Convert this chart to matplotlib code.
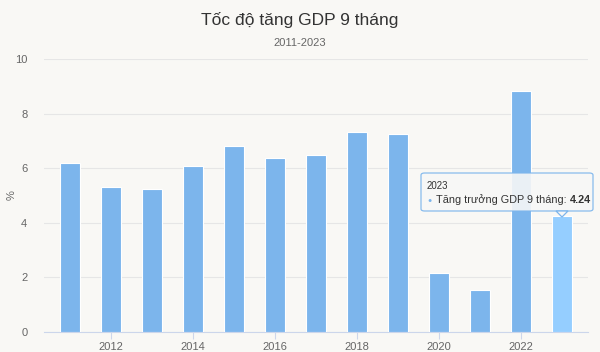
import matplotlib.pyplot as plt
from matplotlib.patches import FancyBboxPatch, Polygon
from matplotlib.text import Annotation

years = [2011, 2012, 2013, 2014, 2015, 2016, 2017, 2018, 2019, 2020, 2021, 2022, 2023]
growth = [6.18, 5.30, 5.23, 6.08, 6.81, 6.37, 6.48, 7.33, 7.25, 2.15, 1.54, 8.83, 4.24]
tick_years = [2012, 2014, 2016, 2018, 2020, 2022]
y_ticks = [0, 2, 4, 6, 8, 10]

plt.rcParams['font.family'] = ['Liberation Sans', 'DejaVu Sans']

bg = '#f9f8f5'
fig = plt.figure(figsize=(6, 3.52), dpi=100, facecolor=bg)
ax = fig.add_axes([44 / 600, 1 - 332 / 352, 544 / 600, 273 / 352], facecolor=bg)

x = list(range(len(years)))
colors = ['#7cb5ec'] * (len(years) - 1) + ['#95ceff']
ax.bar(x, growth, width=0.48, color=colors, edgecolor='white', linewidth=0.8, zorder=3)

ax.set_xlim(-0.63, len(years) - 0.37)
ax.set_ylim(0, 10)
ax.set_yticks(y_ticks)
ax.set_xticks([years.index(y) for y in tick_years])
ax.set_xticklabels([str(y) for y in tick_years])
ax.grid(axis='y', color='#e6e6e6', linewidth=0.8, zorder=0)
for s in ['top', 'right', 'left']:
    ax.spines[s].set_visible(False)
ax.spines['bottom'].set_color('#ccd6eb')
ax.tick_params(axis='y', length=0, labelsize=8, colors='#666666', pad=12)
ax.tick_params(axis='x', length=5, color='#ccd6eb', labelsize=8, labelcolor='#666666', pad=2)

W, H = 600, 352
fig.text(12 / W, 1 - 195 / H, '%', fontsize=8, color='#666666', rotation=90,
         ha='center', va='center')

fig.text(0.5, 1 - 20 / H, 'Tốc độ tăng GDP 9 tháng', ha='center', va='center',
         fontsize=12.5, color='#333333')
fig.text(0.5, 1 - 43 / H, '2011-2023', ha='center', va='center',
         fontsize=8, color='#666666')

# tooltip
box = FancyBboxPatch((421 / W, 1 - 211 / H), 172 / W, 38 / H,
                     boxstyle='round,pad=0,rounding_size=0.006',
                     transform=fig.transFigure, facecolor='#f7f7f7', alpha=0.9,
                     edgecolor='#7cb5ec', linewidth=0.9, zorder=10)
fig.add_artist(box)
tri = Polygon([(556 / W, 1 - 211 / H), (568 / W, 1 - 211 / H), (562 / W, 1 - 217 / H)],
              closed=True, transform=fig.transFigure, facecolor='#f7f7f7',
              edgecolor='#7cb5ec', linewidth=0.9, zorder=10)
fig.add_artist(tri)
fig.text(427 / W, 1 - 186 / H, '2023', fontsize=7, color='#333333', va='center', zorder=11)
fig.text(427 / W, 1 - 200 / H, '●', fontsize=5, color='#7cb5ec', va='center', zorder=11)
lbl = fig.text(436 / W, 1 - 200 / H, 'Tăng trưởng GDP 9 tháng:', fontsize=7.8, color='#333333',
               va='center', zorder=11)
val = Annotation('4.24', xy=(1, 0.5), xycoords=lbl, xytext=(2.5, 0), textcoords='offset points',
                 fontsize=7.8, color='#333333', fontweight='bold', ha='left', va='center',
                 zorder=12)
fig.add_artist(val)

fig.savefig('out.png', dpi=100, facecolor=bg)
